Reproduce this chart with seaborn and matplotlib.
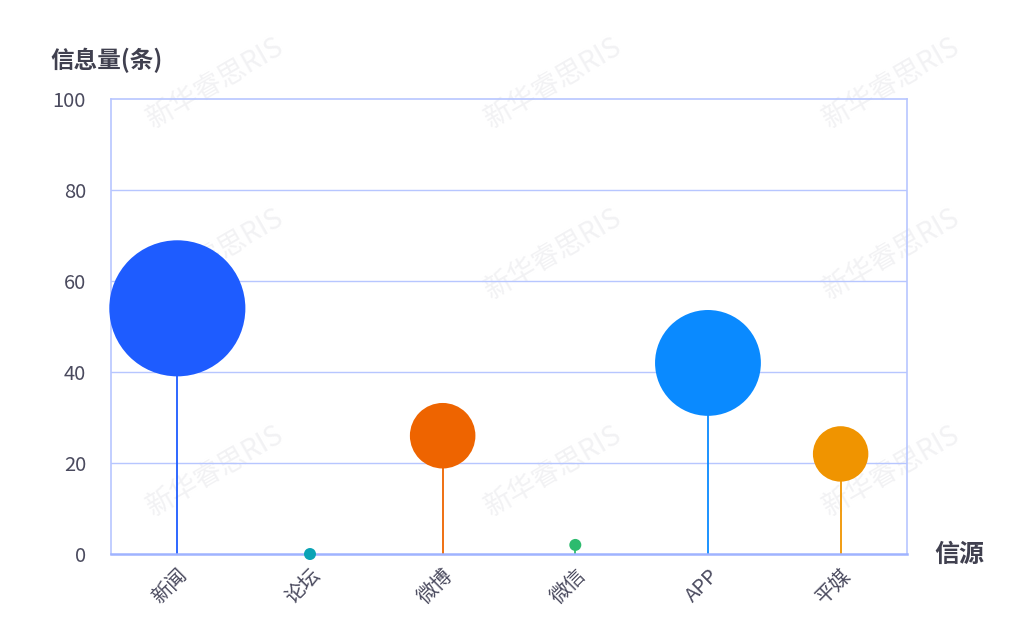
import numpy as np
import pandas as pd
import matplotlib
matplotlib.use('Agg')
import matplotlib.pyplot as plt
import seaborn as sns

# data
sources = ['新闻', '论坛', '微博', '微信', 'APP', '平媒']
counts = [54, 0, 26, 2, 42, 22]
colors = ['#1e5cff', '#0aa3b5', '#ee6400', '#2dbb6e', '#0a8aff', '#f09400']

sns.set_style('white')
plt.rcParams['font.family'] = ['Noto Sans CJK SC', 'DejaVu Sans']

df = pd.DataFrame({'source': sources, 'count': counts})
df['x'] = np.arange(len(df))
# bubble radius grows with the value, with a small floor
radius_px = np.maximum(df['count'] * 1.26, 6)
df['s'] = (2 * radius_px * 0.72) ** 2

fig = plt.figure(figsize=(10.24, 6.36), dpi=100)

# faint watermarks behind the plot
for wx, wy in [(0.21, 0.87), (0.54, 0.87), (0.87, 0.87),
               (0.21, 0.60), (0.54, 0.60), (0.87, 0.60),
               (0.21, 0.26), (0.54, 0.26), (0.87, 0.26)]:
    fig.text(wx, wy, '新华睿思RIS', rotation=30, fontsize=20, color='#f2f2f4',
             ha='center', va='center', zorder=0)

ax = fig.add_axes([0.1084, 0.1289, 0.7773, 0.7154])
ax.set_zorder(1)
ax.patch.set_alpha(0)

grid_c = '#b7c6ff'
ax.set_ylim(0, 100)
ax.set_xlim(-0.5, len(sources) - 0.5)
ax.set_yticks([0, 20, 40, 60, 80, 100])
for yv in [20, 40, 60, 80]:
    ax.axhline(yv, color=grid_c, lw=1, zorder=1)

for i, row in df.iterrows():
    ax.vlines(row['x'], 0, row['count'], color=colors[i], lw=1.3, zorder=2)

sns.scatterplot(data=df, x='x', y='count', hue='source', palette=colors,
                size='s', sizes=(df['s'].min(), df['s'].max()),
                legend=False, linewidth=0, alpha=1, ax=ax, zorder=3, clip_on=False)

for sp in ax.spines.values():
    sp.set_color(grid_c)
    sp.set_linewidth(1.2)
ax.spines['bottom'].set_color('#9fb3ff')
ax.spines['bottom'].set_linewidth(1.8)

ax.set_xticks(df['x'])
ax.set_xticklabels(sources, rotation=45, ha='right', rotation_mode='anchor',
                   fontsize=14.5, color='#4a4a5e')
ax.tick_params(axis='x', length=0, pad=8)
ax.tick_params(axis='y', length=0, pad=18, labelsize=14.5, labelcolor='#4a4a5e')
for lbl in ax.get_yticklabels():
    lbl.set_horizontalalignment('right')
ax.set_xlabel('')
ax.set_ylabel('')

fig.text(0.049, 0.905, '信息量(条)', fontsize=17, color='#40404f',
         fontweight='bold', ha='left', va='center')
fig.text(0.912, 0.128, '信源', fontsize=18, color='#40404f',
         fontweight='bold', ha='left', va='center')

fig.savefig('out.png', dpi=100)
